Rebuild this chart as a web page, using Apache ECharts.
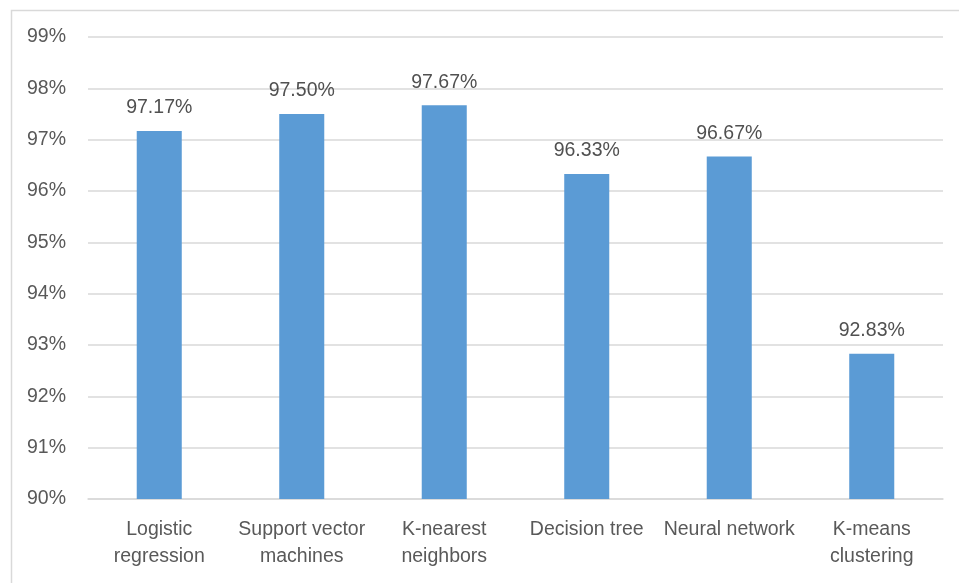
<!DOCTYPE html>
<html>
<head>
<meta charset="utf-8">
<script src="https://cdn.jsdelivr.net/npm/echarts@6/dist/echarts.min.js"></script>
<style>html,body{margin:0;padding:0;background:#fff}#c{width:959px;height:583px}</style>
</head>
<body>
<div id="c"></div>
<script>
const categories = ["Logistic\nregression", "Support vector\nmachines", "K-nearest\nneighbors", "Decision tree", "Neural network", "K-means\nclustering"];
const accuracy = [97.17, 97.50, 97.67, 96.33, 96.67, 92.83];
const yMin = 90, yMax = 99, yStep = 1;

const chart = echarts.init(document.getElementById('c'), null, {renderer: 'canvas'});
const font = 'Arial, "Liberation Sans", sans-serif';
chart.setOption({
  animation: false,
  backgroundColor: '#fff',
  graphic: [{
    type: 'rect', left: 9, top: 8, shape: {width: 960, height: 590},
    style: {fill: 'none', stroke: '#d9d9d9', lineWidth: 1.5}, silent: true
  }],
  grid: {left: 88, right: 16, top: 37, bottom: 84, containLabel: false},
  xAxis: {
    type: 'category', data: categories,
    axisLine: {show: true, lineStyle: {color: '#d9d9d9', width: 1.5}},
    axisTick: {show: false},
    axisLabel: {color: '#595959', fontFamily: font, fontSize: 19.5, lineHeight: 27, margin: 17, interval: 0}
  },
  yAxis: {
    type: 'value', min: yMin, max: yMax, interval: yStep,
    axisLine: {show: false}, axisTick: {show: false},
    splitLine: {lineStyle: {color: '#d9d9d9', width: 1.5}},
    axisLabel: {color: '#595959', fontFamily: font, fontSize: 19.5, margin: 22, formatter: v => v + '%'}
  },
  series: [{
    type: 'bar', data: accuracy, barWidth: '31.6%',
    itemStyle: {color: '#5b9bd5'},
    label: {show: true, position: 'top', distance: 13, color: '#505050', fontFamily: font, fontSize: 19.5,
      formatter: p => p.value.toFixed(2) + '%'}
  }]
});
</script>
</body>
</html>
